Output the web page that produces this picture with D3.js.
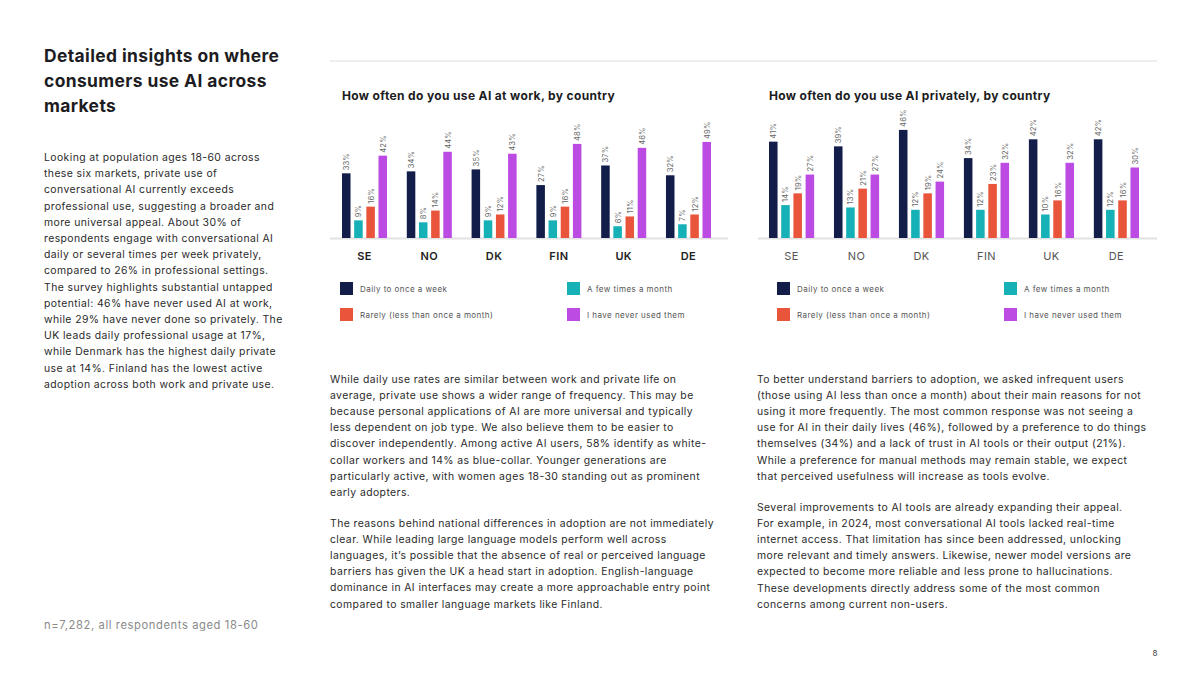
<!DOCTYPE html>
<html>
<head>
<meta charset="utf-8">
<script src="https://cdn.jsdelivr.net/npm/d3@7/dist/d3.min.js"></script>
<style>
  html, body { margin: 0; padding: 0; background: #fff; }
  svg { display: block; font-family: Inter, "Noto Sans", sans-serif; }
</style>
</head>
<body>
<svg id="page" width="1200" height="675"></svg>
<script>
// Chart data
const countries = ["SE", "NO", "DK", "FIN", "UK", "DE"];
const seriesNames = ["Daily to once a week", "A few times a month", "Rarely (less than once a month)", "I have never used them"];
const seriesColors = ["#121d4a", "#15b1b6", "#e9553a", "#bb4be3"];

// work, per series (country order as above)
const workDaily = [33, 34, 35, 27, 37, 32];
const workFew = [9, 8, 9, 9, 6, 7];
const workRarely = [16, 14, 12, 16, 11, 12];
const workNever = [42, 44, 43, 48, 46, 49];

// private
const privDaily = [41, 39, 46, 34, 42, 42];
const privFew = [14, 13, 12, 12, 10, 12];
const privRarely = [19, 21, 19, 23, 16, 16];
const privNever = [27, 27, 24, 32, 32, 30];

const titleLines = ["Detailed insights on where", "consumers use AI across", "markets"];

const leftText = [
  "Looking at population ages 18-60 across",
  "these six markets, private use of",
  "conversational AI currently exceeds",
  "professional use, suggesting a broader and",
  "more universal appeal. About 30% of",
  "respondents engage with conversational AI",
  "daily or several times per week privately,",
  "compared to 26% in professional settings.",
  "The survey highlights substantial untapped",
  "potential: 46% have never used AI at work,",
  "while 29% have never done so privately. The",
  "UK leads daily professional usage at 17%,",
  "while Denmark has the highest daily private",
  "use at 14%. Finland has the lowest active",
  "adoption across both work and private use."
];

const midText1 = [
  "While daily use rates are similar between work and private life on",
  "average, private use shows a wider range of frequency. This may be",
  "because personal applications of AI are more universal and typically",
  "less dependent on job type. We also believe them to be easier to",
  "discover independently. Among active AI users, 58% identify as white-",
  "collar workers and 14% as blue-collar. Younger generations are",
  "particularly active, with women ages 18-30 standing out as prominent",
  "early adopters."
];
const midText2 = [
  "The reasons behind national differences in adoption are not immediately",
  "clear. While leading large language models perform well across",
  "languages, it\u2019s possible that the absence of real or perceived language",
  "barriers has given the UK a head start in adoption. English-language",
  "dominance in AI interfaces may create a more approachable entry point",
  "compared to smaller language markets like Finland."
];
const rightText1 = [
  "To better understand barriers to adoption, we asked infrequent users",
  "(those using AI less than once a month) about their main reasons for not",
  "using it more frequently. The most common response was not seeing a",
  "use for AI in their daily lives (46%), followed by a preference to do things",
  "themselves (34%) and a lack of trust in AI tools or their output (21%).",
  "While a preference for manual methods may remain stable, we expect",
  "that perceived usefulness will increase as tools evolve."
];
const rightText2 = [
  "Several improvements to AI tools are already expanding their appeal.",
  "For example, in 2024, most conversational AI tools lacked real-time",
  "internet access. That limitation has since been addressed, unlocking",
  "more relevant and timely answers. Likewise, newer model versions are",
  "expected to become more reliable and less prone to hallucinations.",
  "These developments directly address some of the most common",
  "concerns among current non-users."
];

const svg = d3.select("#page");

// Left column
svg.append("text")
  .attr("x", 44).attr("y", 62)
  .attr("font-size", 17.4).attr("font-weight", 700).attr("fill", "#1c1c22")
  .attr("letter-spacing", 0.4)
  .selectAll("tspan").data(titleLines).enter().append("tspan")
  .attr("x", 44).attr("dy", (d, i) => i === 0 ? 0 : 25)
  .text((d) => d);

function paragraph(lines, x, y, lh) {
  svg.append("text")
    .attr("x", x).attr("y", y)
    .attr("font-size", 10.4).attr("fill", "#2a2a2a")
    .attr("letter-spacing", 0.42)
    .selectAll("tspan").data(lines).enter().append("tspan")
    .attr("x", x).attr("dy", (d, i) => i === 0 ? 0 : lh)
    .text((d) => d);
}

paragraph(leftText, 44, 161, 16.2);
paragraph(midText1, 330, 383, 16.1);
paragraph(midText2, 330, 527, 16.1);
paragraph(rightText1, 757, 383, 16.1);
paragraph(rightText2, 757, 511, 16.1);

svg.append("text")
  .attr("x", 44).attr("y", 629)
  .attr("font-size", 11.2).attr("fill", "#8a8a8a")
  .attr("letter-spacing", 0.6)
  .text("n=7,282, all respondents aged 18-60");

svg.append("text")
  .attr("x", 1155).attr("y", 656)
  .attr("font-size", 8).attr("fill", "#444").attr("text-anchor", "middle")
  .text("8");

// top rule
svg.append("line")
  .attr("x1", 330).attr("x2", 1157).attr("y1", 61).attr("y2", 61)
  .attr("stroke", "#dcdcdc").attr("stroke-width", 1);

// Charts
function drawChart(opts) {
  const g = svg.append("g");
  const values = opts.series;

  g.append("text")
    .attr("x", opts.titleX).attr("y", 100)
    .attr("font-size", 12).attr("font-weight", 700).attr("fill", "#1c1c22")
    .attr("letter-spacing", 0.35)
    .text(opts.title);

  const x0 = d3.scaleBand().domain(countries).range(opts.bandRange).paddingInner(0.305).paddingOuter(0);
  const x1 = d3.scaleBand().domain(d3.range(seriesNames.length)).range([0, x0.bandwidth()]).paddingInner(0.3);
  const y = d3.scaleLinear().domain([0, 50]).range([238, 238 - opts.pxPerPct * 50]);

  // baseline
  g.append("line")
    .attr("x1", opts.lineRange[0]).attr("x2", opts.lineRange[1])
    .attr("y1", 238.5).attr("y2", 238.5)
    .attr("stroke", "#e2e2e2").attr("stroke-width", 2);

  const groups = g.selectAll("g.country")
    .data(countries).enter().append("g")
    .attr("class", "country")
    .attr("transform", (d) => `translate(${x0(d)},0)`);

  const cells = groups.selectAll("g.bar")
    .data((d, ci) => values.map((s, si) => ({ si, v: s[ci] })))
    .enter().append("g").attr("class", "bar");

  cells.append("rect")
    .attr("x", (d) => x1(d.si))
    .attr("width", x1.bandwidth())
    .attr("y", (d) => y(d.v))
    .attr("height", (d) => y(0) - y(d.v))
    .attr("fill", (d) => seriesColors[d.si]);

  cells.append("text")
    .attr("transform", (d) => `translate(${x1(d.si) + x1.bandwidth() / 2 + 3},${y(d.v) - 3}) rotate(-90)`)
    .attr("font-size", 7.5).attr("fill", "#666")
    .attr("letter-spacing", 0.2)
    .text((d) => d.v + "%");

  // category axis
  const axis = g.append("g")
    .attr("transform", "translate(0,238)")
    .call(d3.axisBottom(x0).tickSize(0).tickPadding(14));
  axis.select(".domain").remove();
  axis.selectAll("text")
    .attr("font-family", "Inter, 'Noto Sans', sans-serif")
    .attr("font-size", 11)
    .attr("letter-spacing", 0.4)
    .attr("font-weight", opts.labelWeight)
    .attr("fill", opts.labelColor);

  // legend
  const legendPos = [[0, 0], [1, 0], [0, 1], [1, 1]];
  const leg = g.selectAll("g.leg").data(seriesNames).enter().append("g")
    .attr("class", "leg")
    .attr("transform", (d, i) => `translate(${opts.legendX[legendPos[i][0]]},${282 + legendPos[i][1] * 26})`);
  leg.append("rect")
    .attr("width", 13).attr("height", 13)
    .attr("fill", (d, i) => seriesColors[i]);
  leg.append("text")
    .attr("x", 20).attr("y", 9.5)
    .attr("font-size", 8).attr("fill", "#555")
    .attr("letter-spacing", 0.45)
    .text((d) => d);
}

drawChart({
  title: "How often do you use AI at work, by country",
  titleX: 342,
  series: [workDaily, workFew, workRarely, workNever],
  bandRange: [342, 711],
  lineRange: [330, 728],
  pxPerPct: 1.96,
  labelWeight: 600,
  labelColor: "#222",
  legendX: [340, 567]
});

drawChart({
  title: "How often do you use AI privately, by country",
  titleX: 769,
  series: [privDaily, privFew, privRarely, privNever],
  bandRange: [769, 1139],
  lineRange: [758, 1157],
  pxPerPct: 2.35,
  labelWeight: 400,
  labelColor: "#555",
  legendX: [777, 1004]
});
</script>
</body>
</html>
